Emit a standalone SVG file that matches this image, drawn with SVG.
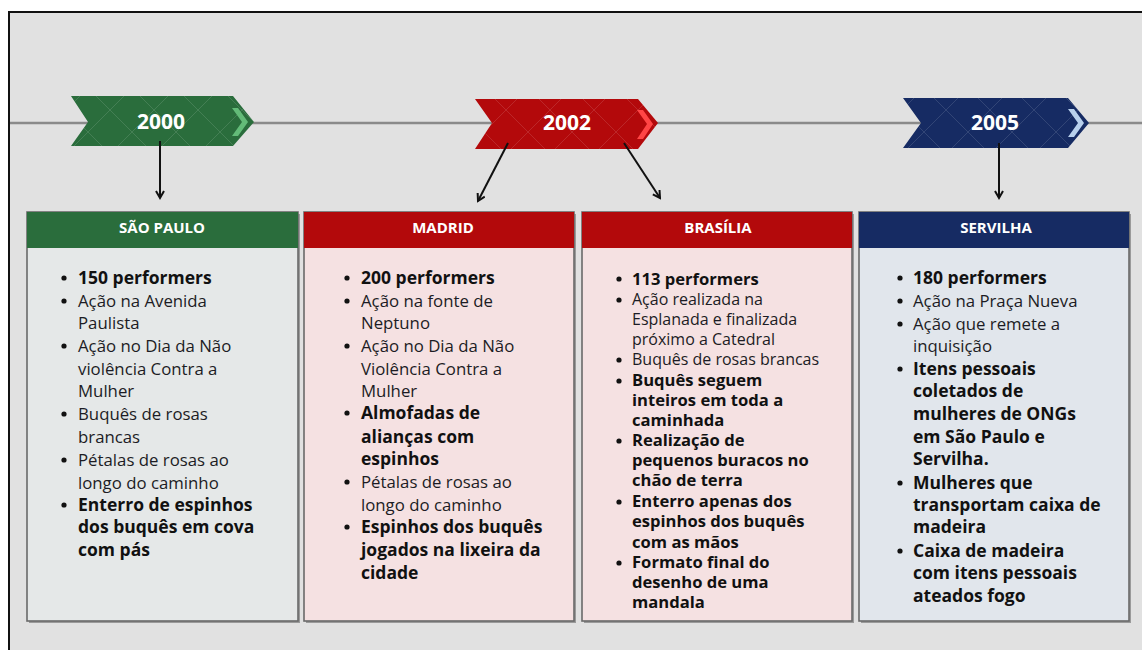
<svg xmlns="http://www.w3.org/2000/svg" width="1142" height="650" viewBox="0 0 1142 650">
<defs>
<style>
.yr{font-family:"Open Sans","Liberation Sans",sans-serif;font-weight:700;font-size:21px;fill:#fff;text-anchor:middle}
.hd{font-family:"Open Sans","Liberation Sans",sans-serif;font-weight:700;font-size:15px;fill:#fff;text-anchor:middle}
.t{font-family:"Open Sans","Liberation Sans",sans-serif;font-size:16.8px;fill:#1c1c24}
.b{font-weight:700;fill:#111;font-size:17.5px}
.tc{font-size:16px}
.tc .b{font-size:16.6px}
.card{stroke:#6a6a6a;stroke-width:1.6}
.conn{stroke:#111;stroke-width:2;fill:none;marker-end:url(#ah)}
</style>
<marker id="ah" viewBox="0 0 10 10" refX="8" refY="5" markerWidth="5" markerHeight="5" orient="auto" markerUnits="strokeWidth">
<path d="M1,1 L8,5 L1,9" fill="none" stroke="#111" stroke-width="2"/>
</marker>
<pattern id="dia" width="44" height="44" patternUnits="userSpaceOnUse">
<path d="M0,0 L44,44 M44,0 L0,44" stroke="#ffffff" stroke-opacity="0.12" stroke-width="1"/>
</pattern>
</defs>
<rect x="0" y="0" width="1142" height="650" fill="#ffffff"/>
<rect x="9" y="12" width="1145" height="650" fill="#e1e1e1" stroke="#111" stroke-width="2"/>
<line x1="10" y1="123" x2="1142" y2="123" stroke="#8a8a8a" stroke-width="2.5"/>

<g id="year2000">
<path d="M71,96 L233,96 L254,122 L233,146 L71,146 L88,122 Z" fill="#2a6d3c"/>
<path d="M71,96 L233,96 L254,122 L233,146 L71,146 L88,122 Z" fill="url(#dia)"/>
<path d="M232,108 L238,108 L248,122 L238,136 L232,136 L242,122 Z" fill="#63bb78"/>
<text class="yr" x="161" y="129">2000</text>
</g>
<g id="year2002">
<path d="M475,99 L638,99 L658,123 L638,149 L475,149 L492,123 Z" fill="#b3090b"/>
<path d="M475,99 L638,99 L658,123 L638,149 L475,149 L492,123 Z" fill="url(#dia)"/>
<path d="M637,110 L643,110 L653,124 L643,139 L637,139 L647,124 Z" fill="#ff4545"/>
<text class="yr" x="567" y="130">2002</text>
</g>
<g id="year2005">
<path d="M903,98 L1068,98 L1089,123 L1068,148 L903,148 L921,123 Z" fill="#162b63"/>
<path d="M903,98 L1068,98 L1089,123 L1068,148 L903,148 L921,123 Z" fill="url(#dia)"/>
<path d="M1068,109 L1074,109 L1084,123 L1074,137 L1068,137 L1078,123 Z" fill="#b8d0ec"/>
<text class="yr" x="995" y="130">2005</text>
</g>

<g id="connectors">
<line class="conn" x1="160" y1="141" x2="160" y2="198"/>
<line class="conn" x1="508" y1="143" x2="478" y2="201"/>
<line class="conn" x1="624" y1="143" x2="660" y2="198"/>
<line class="conn" x1="999" y1="143" x2="999" y2="198"/>
</g>

<g id="card-saopaulo">
<rect x="29" y="214" width="271" height="409" fill="#9a9a9a"/>
<rect class="card" x="27" y="212" width="271" height="409" fill="#e5e8e8"/>
<rect x="27" y="212" width="271" height="36" fill="#2a6d3c"/>
<text class="hd" x="162" y="233">SÃO PAULO</text>
<g class="t">
<circle cx="64" cy="278" r="2.6" fill="#111"/>
<text class="b" x="78" y="284">150 performers</text>
<circle cx="64" cy="301" r="2.6" fill="#111"/>
<text x="78" y="307">Ação na Avenida</text>
<text x="78" y="329">Paulista</text>
<circle cx="64" cy="346" r="2.6" fill="#111"/>
<text x="78" y="352">Ação no Dia da Não</text>
<text x="78" y="375">violência Contra a</text>
<text x="78" y="397">Mulher</text>
<circle cx="64" cy="414" r="2.6" fill="#111"/>
<text x="78" y="420">Buquês de rosas</text>
<text x="78" y="443">brancas</text>
<circle cx="64" cy="460" r="2.6" fill="#111"/>
<text x="78" y="466">Pétalas de rosas ao</text>
<text x="78" y="489">longo do caminho</text>
<circle cx="64" cy="505" r="2.6" fill="#111"/>
<text class="b" x="78" y="511">Enterro de espinhos</text>
<text class="b" x="78" y="533">dos buquês em cova</text>
<text class="b" x="78" y="556">com pás</text>
</g>
</g>

<g id="card-madrid">
<rect x="306" y="214" width="270" height="409" fill="#9a9a9a"/>
<rect class="card" x="304" y="212" width="270" height="409" fill="#f5e1e2"/>
<rect x="304" y="212" width="270" height="36" fill="#b3090b"/>
<text class="hd" x="443" y="233">MADRID</text>
<g class="t">
<circle cx="347" cy="278" r="2.6" fill="#111"/>
<text class="b" x="361" y="284">200 performers</text>
<circle cx="347" cy="301" r="2.6" fill="#111"/>
<text x="361" y="307">Ação na fonte de</text>
<text x="361" y="329">Neptuno</text>
<circle cx="347" cy="346" r="2.6" fill="#111"/>
<text x="361" y="352">Ação no Dia da Não</text>
<text x="361" y="375">Violência Contra a</text>
<text x="361" y="397">Mulher</text>
<circle cx="347" cy="413" r="2.6" fill="#111"/>
<text class="b" x="361" y="419">Almofadas de</text>
<text class="b" x="361" y="443">alianças com</text>
<text class="b" x="361" y="465">espinhos</text>
<circle cx="347" cy="482" r="2.6" fill="#111"/>
<text x="361" y="488">Pétalas de rosas ao</text>
<text x="361" y="511">longo do caminho</text>
<circle cx="347" cy="527" r="2.6" fill="#111"/>
<text class="b" x="361" y="533">Espinhos dos buquês</text>
<text class="b" x="361" y="556">jogados na lixeira da</text>
<text class="b" x="361" y="579">cidade</text>
</g>
</g>

<g id="card-brasilia">
<rect x="584" y="214" width="270" height="409" fill="#9a9a9a"/>
<rect class="card" x="582" y="212" width="270" height="409" fill="#f5e1e2"/>
<rect x="582" y="212" width="270" height="36" fill="#b3090b"/>
<text class="hd" x="718" y="233">BRASÍLIA</text>
<g class="t tc">
<circle cx="619" cy="279" r="2.6" fill="#111"/>
<text class="b" x="632" y="285">113 performers</text>
<circle cx="619" cy="300" r="2.6" fill="#111"/>
<text x="632" y="305">Ação realizada na</text>
<text x="632" y="325">Esplanada e finalizada</text>
<text x="632" y="345">próximo a Catedral</text>
<circle cx="619" cy="360" r="2.6" fill="#111"/>
<text x="632" y="365">Buquês de rosas brancas</text>
<circle cx="619" cy="381" r="2.6" fill="#111"/>
<text class="b" x="632" y="386">Buquês seguem</text>
<text class="b" x="632" y="406">inteiros em toda a</text>
<text class="b" x="632" y="426">caminhada</text>
<circle cx="619" cy="441" r="2.6" fill="#111"/>
<text class="b" x="632" y="446">Realização de</text>
<text class="b" x="632" y="466">pequenos buracos no</text>
<text class="b" x="632" y="486">chão de terra</text>
<circle cx="619" cy="502" r="2.6" fill="#111"/>
<text class="b" x="632" y="507">Enterro apenas dos</text>
<text class="b" x="632" y="527">espinhos dos buquês</text>
<text class="b" x="632" y="548">com as mãos</text>
<circle cx="619" cy="563" r="2.6" fill="#111"/>
<text class="b" x="632" y="568">Formato final do</text>
<text class="b" x="632" y="588">desenho de uma</text>
<text class="b" x="632" y="608">mandala</text>
</g>
</g>

<g id="card-servilha">
<rect x="861" y="214" width="270" height="409" fill="#9a9a9a"/>
<rect class="card" x="859" y="212" width="270" height="409" fill="#e1e6ec"/>
<rect x="859" y="212" width="270" height="36" fill="#162b63"/>
<text class="hd" x="996" y="233">SERVILHA</text>
<g class="t">
<circle cx="900" cy="278" r="2.6" fill="#111"/>
<text class="b" x="913" y="284">180 performers</text>
<circle cx="900" cy="301" r="2.6" fill="#111"/>
<text x="913" y="307">Ação na Praça Nueva</text>
<circle cx="900" cy="324" r="2.6" fill="#111"/>
<text x="913" y="330">Ação que remete a</text>
<text x="913" y="352">inquisição</text>
<circle cx="900" cy="369" r="2.6" fill="#111"/>
<text class="b" x="913" y="375">Itens pessoais</text>
<text class="b" x="913" y="397">coletados de</text>
<text class="b" x="913" y="420">mulheres de ONGs</text>
<text class="b" x="913" y="443">em São Paulo e</text>
<text class="b" x="913" y="465">Servilha.</text>
<circle cx="900" cy="483" r="2.6" fill="#111"/>
<text class="b" x="913" y="489">Mulheres que</text>
<text class="b" x="913" y="511">transportam caixa de</text>
<text class="b" x="913" y="533">madeira</text>
<circle cx="900" cy="551" r="2.6" fill="#111"/>
<text class="b" x="913" y="557">Caixa de madeira</text>
<text class="b" x="913" y="579">com itens pessoais</text>
<text class="b" x="913" y="602">ateados fogo</text>
</g>
</g>
</svg>
